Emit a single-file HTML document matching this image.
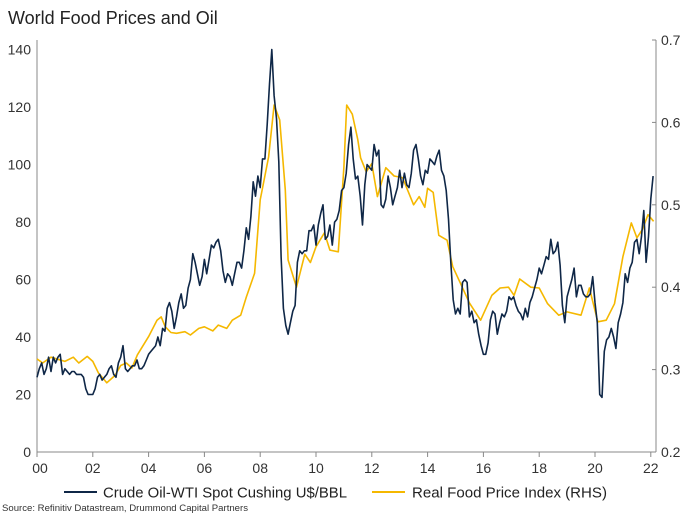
<!DOCTYPE html>
<html><head><meta charset="utf-8"><style>
body{margin:0;background:#fff;font-family:"Liberation Sans",Arial,sans-serif}
svg text{font-family:"Liberation Sans",Arial,sans-serif}
</style></head><body>
<svg id="chart" width="689" height="517" viewBox="0 0 689 517" xmlns="http://www.w3.org/2000/svg">
<text x="8" y="24" font-size="18" fill="#222">World Food Prices and Oil</text>
<g id="axes"></g>
<g id="series"></g>
<g>
<line x1="64" y1="492" x2="97" y2="492" stroke="#0f2747" stroke-width="2"/>
<text x="103" y="497.5" font-size="15" fill="#222" textLength="244" lengthAdjust="spacingAndGlyphs">Crude Oil-WTI Spot Cushing U$/BBL</text>
<line x1="372" y1="492" x2="405" y2="492" stroke="#f5b800" stroke-width="2"/>
<text x="412" y="497.5" font-size="15" fill="#222" textLength="195" lengthAdjust="spacingAndGlyphs">Real Food Price Index (RHS)</text>
</g>
<text x="2" y="511" font-size="9" fill="#333" textLength="246" lengthAdjust="spacingAndGlyphs">Source: Refinitiv Datastream, Drummond Capital Partners</text>
</svg>
<script>
const leftTicks=[0,20,40,60,80,100,120,140];
const rightTicks=[0.2,0.3,0.4,0.5,0.6,0.7];
const rightTickLabels=["0.2","0.3","0.4","0.5","0.6","0.7"];
const xTicks=[0,2,4,6,8,10,12,14,16,18,20,22];
const xTickLabels=["00","02","04","06","08","10","12","14","16","18","20","22"];
const oilStart=2000;
const oil=[26,29,31,27,29,33,28,33,31,33,34,27,
29,28,27,28,28,27,27,27,26,22,20,20,
20,22,26,27,25,26,27,29,30,27,26,31,
33,37,29,28,29,30,30,32,29,29,30,32,
34,35,36,37,40,37,43,42,50,52,49,43,
47,52,55,50,51,57,60,69,66,62,58,61,
67,62,67,72,71,73,74,70,63,59,62,61,
58,62,66,66,64,70,78,74,82,94,89,96,
92,102,102,114,128,140,124,116,101,68,50,44,
41,45,49,51,66,70,69,70,70,77,77,79,
72,79,83,86,74,75,79,72,80,81,84,91,
92,97,107,113,102,95,96,89,79,93,100,99,
98,107,103,105,86,85,88,96,92,86,89,92,
98,92,97,93,92,97,105,107,102,96,93,98,
97,102,101,100,103,105,98,96,91,81,66,53,
48,50,48,59,60,59,47,49,45,46,41,37,
34,34,38,46,49,48,41,45,48,47,49,54,
53,54,51,49,48,46,50,47,52,54,57,60,
64,62,65,68,67,74,69,70,73,65,51,45,
54,57,60,64,54,58,58,55,54,54,55,61,
52,45,20,19,35,39,40,43,40,36,45,48,
52,62,59,64,66,73,74,69,75,84,66,75,
88,96];
const foodYears=[2000.0,2000.2,2000.5,2000.8,2001.0,2001.3,2001.5,2001.8,2002.0,2002.2,2002.5,2002.8,2003.0,2003.2,2003.4,2003.6,2004.0,2004.3,2004.45,2004.6,2004.8,2005.0,2005.3,2005.5,2005.8,2006.0,2006.3,2006.5,2006.8,2007.0,2007.3,2007.5,2007.8,2008.0,2008.3,2008.5,2008.7,2008.9,2009.0,2009.3,2009.6,2009.8,2010.0,2010.3,2010.5,2010.8,2011.0,2011.1,2011.3,2011.5,2011.6,2011.8,2012.0,2012.2,2012.5,2012.8,2013.1,2013.5,2013.7,2013.9,2014.0,2014.2,2014.4,2014.7,2014.9,2015.2,2015.5,2015.9,2016.3,2016.6,2016.9,2017.1,2017.3,2017.7,2018.0,2018.3,2018.7,2019.0,2019.5,2019.8,2020.1,2020.4,2020.7,2021.0,2021.3,2021.5,2021.7,2021.9,2022.1];
const foodValues=[0.313,0.308,0.315,0.312,0.31,0.315,0.308,0.316,0.31,0.296,0.284,0.293,0.305,0.308,0.302,0.318,0.34,0.36,0.364,0.352,0.345,0.344,0.346,0.342,0.35,0.352,0.347,0.354,0.35,0.36,0.366,0.388,0.417,0.506,0.558,0.621,0.603,0.518,0.433,0.40,0.44,0.43,0.449,0.466,0.445,0.443,0.546,0.621,0.61,0.579,0.557,0.54,0.55,0.51,0.545,0.535,0.533,0.50,0.51,0.497,0.52,0.515,0.463,0.457,0.425,0.403,0.381,0.36,0.39,0.399,0.40,0.39,0.41,0.40,0.399,0.38,0.366,0.37,0.366,0.399,0.358,0.36,0.38,0.437,0.478,0.46,0.47,0.488,0.48];

const X0=37,XW=27.9,YB=452;
const xScale=y=>X0+(y-2000)*XW;
const xYr=t=>X0+t*XW;
const yL=v=>YB-v*2.874;
const yR=v=>YB-(v-0.2)*824;
const NS="http://www.w3.org/2000/svg";
function mk(tag,attrs,parent){const e=document.createElementNS(NS,tag);for(const k in attrs)e.setAttribute(k,attrs[k]);parent.appendChild(e);return e;}
const ax=document.getElementById('axes');
let a=mk('line',{x1:X0,y1:40,x2:X0,y2:YB,stroke:'#888'},ax);


a=mk('line',{x1:656,y1:40,x2:656,y2:YB,stroke:'#888'},ax);


a=mk('line',{x1:X0,y1:YB,x2:656,y2:YB,stroke:'#888'},ax);


leftTicks.forEach(v=>{const t=mk('text',{x:31,y:yL(v)+5,'text-anchor':'end','font-size':14,fill:'#333'},ax);t.textContent=v;

});
rightTicks.forEach((v,i)=>{const t=mk('text',{x:661,y:yR(v)+5,'font-size':14,fill:'#333'},ax);t.textContent=rightTickLabels[i];


mk('line',{x1:652,y1:yR(v),x2:656,y2:yR(v),stroke:'#888'},ax);});
xTicks.forEach((v,i)=>{mk('line',{x1:xYr(v),y1:YB,x2:xYr(v),y2:YB+5,stroke:'#888'},ax);
const t=mk('text',{x:xYr(v)+(i===0?3:0),y:473,'text-anchor':'middle','font-size':14,fill:'#333'},ax);t.textContent=xTickLabels[i];

});
const sg=document.getElementById('series');
const fp=foodYears.map((y,i)=>xScale(y).toFixed(1)+','+yR(foodValues[i]).toFixed(1)).join(' ');
const f=mk('polyline',{points:fp,fill:'none',stroke:'#f5b800','stroke-width':1.6,'stroke-linejoin':'round'},sg);


const op=oil.map((v,i)=>xScale(oilStart+i/12).toFixed(1)+','+yL(v).toFixed(1)).join(' ');
const o=mk('polyline',{points:op,fill:'none',stroke:'#0f2747','stroke-width':1.6,'stroke-linejoin':'round'},sg);


</script>
</body></html>
